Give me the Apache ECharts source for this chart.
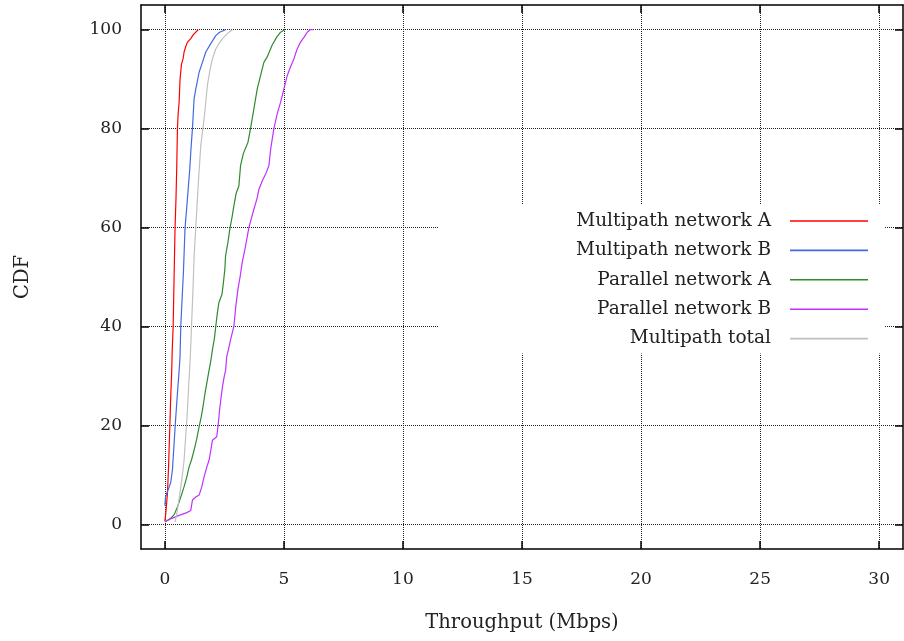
<!DOCTYPE html>
<html>
<head>
<meta charset="utf-8">
<script src="https://cdn.jsdelivr.net/npm/echarts@6/dist/echarts.min.js"></script>
<style>html,body{margin:0;padding:0;background:#fff}#c{width:904px;height:641px}</style>
</head>
<body>
<div id="c"></div>
<script>
const seriesNames = ['Multipath network A','Multipath network B','Parallel network A','Parallel network B','Multipath total'];
const xTicks = [0,5,10,15,20,25,30];
const yTicks = [0,20,40,60,80,100];

const multipathA = [[0,0.6],[0.04,2.2],[0.11,6.2],[0.16,12],[0.21,19.7],[0.25,26],[0.29,31],[0.31,35],[0.35,40],[0.39,50],[0.43,60],[0.47,66],[0.5,72],[0.53,80],[0.56,83],[0.6,85.3],[0.64,90],[0.7,93],[0.77,94.2],[0.81,95.5],[0.88,96.6],[0.95,97.5],[1.09,98.2],[1.2,99],[1.4,100]];
const multipathB = [[0,3.8],[0.03,5.5],[0.1,6.5],[0.18,7.5],[0.25,8.5],[0.32,11],[0.39,16.4],[0.45,21],[0.53,26.5],[0.6,31],[0.64,34],[0.67,40],[0.72,45],[0.78,50.8],[0.85,60],[0.92,64],[0.98,67.7],[1.05,72],[1.1,76],[1.16,80],[1.23,86],[1.3,88],[1.44,91.4],[1.58,93.4],[1.72,95.5],[1.93,97.2],[2.14,98.8],[2.3,99.5],[2.55,100]];
const parallelA = [[0.01,0.5],[0.25,1.2],[0.4,2],[0.53,3.5],[0.67,5.5],[0.81,7.6],[0.92,9.5],[1.02,11.6],[1.12,13],[1.23,15],[1.33,17],[1.44,19.7],[1.52,21.5],[1.58,23.1],[1.69,26.5],[1.78,29],[1.86,31.2],[1.93,33],[2.0,35.3],[2.08,37.5],[2.14,40],[2.2,42.5],[2.27,44.8],[2.4,46.5],[2.46,48.8],[2.52,51.5],[2.55,54.2],[2.65,57],[2.74,60],[2.82,62],[2.9,64.4],[3.0,67],[3.11,68.4],[3.18,72.5],[3.3,75],[3.49,77.2],[3.6,80],[3.74,84],[3.88,88],[4.02,90.7],[4.16,93.4],[4.3,94.5],[4.5,96.8],[4.7,98.5],[4.86,99.5],[5.03,100]];
const parallelB = [[0.01,0.5],[0.3,1.2],[0.6,1.8],[0.9,2.3],[1.09,2.8],[1.16,4.9],[1.3,5.5],[1.44,5.9],[1.55,7.5],[1.65,9.6],[1.76,11.5],[1.86,13],[1.95,15.5],[2.0,17],[2.18,17.7],[2.24,20],[2.3,23.1],[2.36,25.5],[2.42,27.8],[2.5,30],[2.55,31],[2.6,33.9],[2.68,35.5],[2.76,37.3],[2.9,40],[2.98,44],[3.07,47.5],[3.16,50],[3.25,52.9],[3.4,56.5],[3.53,60],[3.7,63],[3.88,66],[3.95,67.7],[4.1,69.5],[4.25,71],[4.37,72.5],[4.45,76],[4.58,80],[4.72,83],[4.86,85.3],[5.0,88],[5.14,90.7],[5.28,92.5],[5.42,94.1],[5.55,96],[5.7,97.5],[5.85,98.5],[5.98,99.5],[6.1,100],[6.25,100]];
const multipathTotal = [[0.43,0.5],[0.5,2],[0.58,4.5],[0.67,7.6],[0.74,10],[0.81,13],[0.88,18],[0.95,23],[1.0,28],[1.04,31],[1.08,35],[1.12,40],[1.18,47],[1.23,54.2],[1.3,60],[1.36,65],[1.42,70],[1.51,76.5],[1.65,82],[1.79,88.8],[1.9,92],[2.0,94.1],[2.14,96.1],[2.3,97.4],[2.42,98.2],[2.69,99.5],[2.84,100]];

const seriesData = [multipathA, multipathB, parallelA, parallelB, multipathTotal];
const colors = ['#ff0000','#4169e1','#2e8b2e','#c030ff','#c0c0c0'];

const FONT = 'DejaVu Serif';
const chart = echarts.init(document.getElementById('c'), null, {renderer:'canvas'});

function xAx(pos, main) {
  return {
    type:'value', position:pos, min:-1, max:31,
    axisLine:{show:true, onZero:false, lineStyle:{color:'#000', width:1.5}},
    axisTick:{show:true, inside:true, length:8, customValues:xTicks, lineStyle:{color:'#000', width:1.5}},
    axisLabel:{show:main, customValues:xTicks, margin:22, fontFamily:FONT, fontSize:17, color:'#222'},
    splitLine:{show:main, lineStyle:{color:'#222', type:'dotted', width:1}},
    name: main ? 'Throughput (Mbps)' : '', nameLocation:'middle', nameGap:64,
    nameTextStyle:{fontFamily:FONT, fontSize:19.5, color:'#222'}
  };
}
function yAx(pos, main) {
  return {
    type:'value', position:pos, min:-5, max:105,
    axisLine:{show:true, onZero:false, lineStyle:{color:'#000', width:1.5}},
    axisTick:{show:true, inside:true, length:8, customValues:yTicks, lineStyle:{color:'#000', width:1.5}},
    axisLabel:{show:main, customValues:yTicks, margin:19, fontFamily:FONT, fontSize:17, color:'#222'},
    splitLine:{show:main, lineStyle:{color:'#222', type:'dotted', width:1}},
    name: main ? 'CDF' : '', nameLocation:'middle', nameGap:108,
    nameTextStyle:{fontFamily:FONT, fontSize:19.5, color:'#222'}
  };
}

chart.setOption({
  animation:false,
  backgroundColor:'#fff',
  grid:{left:141, top:5, right:1, bottom:92, containLabel:false},
  xAxis:[xAx('bottom', true), xAx('top', false)],
  yAxis:[yAx('left', true), yAx('right', false)],
  legend:{
    orient:'vertical', left:438, top:205,
    padding:[6,16,5,113], backgroundColor:'#fff',
    icon:'rect', itemWidth:78, itemHeight:1.6, itemGap:9.4, align:'right',
    selectedMode:false,
    textStyle:{fontFamily:FONT, fontSize:18.5, lineHeight:20, color:'#222', width:220, align:'right', padding:[0,14,0,0]},
    data:seriesNames
  },
  series: seriesNames.map((n,i)=>({
    name:n, type:'line', xAxisIndex:0, yAxisIndex:0,
    data:seriesData[i], symbol:'none', showSymbol:false,
    lineStyle:{color:colors[i], width:1.2}, itemStyle:{color:colors[i]},
    emphasis:{disabled:true}
  }))
});
</script>
</body>
</html>
